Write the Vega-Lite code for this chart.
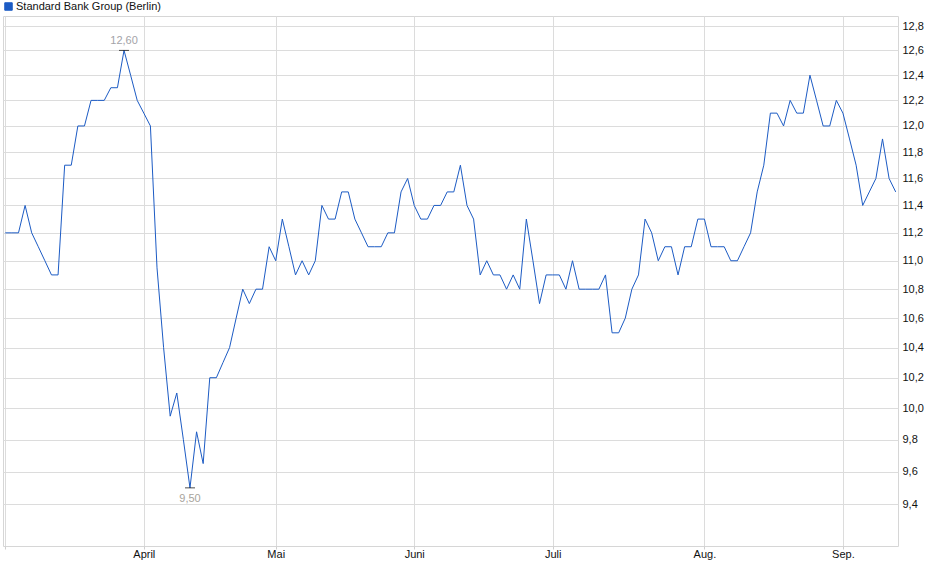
{
  "$schema": "https://vega.github.io/schema/vega-lite/v6.json",
  "description": "Standard Bank Group (Berlin), Kursverlauf Maerz bis September",
  "autosize": "none",
  "width": 895,
  "height": 530,
  "padding": {"left": 3, "top": 16, "right": 42, "bottom": 33},
  "background": "white",
  "config": {
    "font": "Liberation Sans",
    "view": {"stroke": "#d6d6d6", "strokeWidth": 1},
    "axis": {"labelFont": "Liberation Sans", "labelFontSize": 11, "labelColor": "#111111", "gridColor": "#dcdcdc", "gridWidth": 1, "domain": false, "title": null}
  },
  "datasets": {
    "prices": [
      {"date": "2025-03-03", "price": 11.2}, {"date": "2025-03-04", "price": 11.2}, {"date": "2025-03-05", "price": 11.2},
      {"date": "2025-03-06", "price": 11.4}, {"date": "2025-03-07", "price": 11.2}, {"date": "2025-03-10", "price": 11.1},
      {"date": "2025-03-11", "price": 11.0}, {"date": "2025-03-12", "price": 10.9}, {"date": "2025-03-13", "price": 10.9},
      {"date": "2025-03-14", "price": 11.7}, {"date": "2025-03-17", "price": 11.7}, {"date": "2025-03-18", "price": 12.0},
      {"date": "2025-03-19", "price": 12.0}, {"date": "2025-03-20", "price": 12.2}, {"date": "2025-03-21", "price": 12.2},
      {"date": "2025-03-24", "price": 12.2}, {"date": "2025-03-25", "price": 12.3}, {"date": "2025-03-26", "price": 12.3},
      {"date": "2025-03-27", "price": 12.6}, {"date": "2025-03-28", "price": 12.4}, {"date": "2025-03-31", "price": 12.2},
      {"date": "2025-04-01", "price": 12.1}, {"date": "2025-04-02", "price": 12.0}, {"date": "2025-04-03", "price": 10.95},
      {"date": "2025-04-04", "price": 10.4}, {"date": "2025-04-07", "price": 9.95}, {"date": "2025-04-08", "price": 10.1},
      {"date": "2025-04-09", "price": 9.8}, {"date": "2025-04-10", "price": 9.5}, {"date": "2025-04-11", "price": 9.85},
      {"date": "2025-04-14", "price": 9.65}, {"date": "2025-04-15", "price": 10.2}, {"date": "2025-04-16", "price": 10.2},
      {"date": "2025-04-17", "price": 10.3}, {"date": "2025-04-22", "price": 10.4}, {"date": "2025-04-23", "price": 10.6},
      {"date": "2025-04-24", "price": 10.8}, {"date": "2025-04-25", "price": 10.7}, {"date": "2025-04-28", "price": 10.8},
      {"date": "2025-04-29", "price": 10.8}, {"date": "2025-04-30", "price": 11.1}, {"date": "2025-05-02", "price": 11.0},
      {"date": "2025-05-05", "price": 11.3}, {"date": "2025-05-06", "price": 11.1}, {"date": "2025-05-07", "price": 10.9},
      {"date": "2025-05-08", "price": 11.0}, {"date": "2025-05-09", "price": 10.9}, {"date": "2025-05-12", "price": 11.0},
      {"date": "2025-05-13", "price": 11.4}, {"date": "2025-05-14", "price": 11.3}, {"date": "2025-05-15", "price": 11.3},
      {"date": "2025-05-16", "price": 11.5}, {"date": "2025-05-19", "price": 11.5}, {"date": "2025-05-20", "price": 11.3},
      {"date": "2025-05-21", "price": 11.2}, {"date": "2025-05-22", "price": 11.1}, {"date": "2025-05-23", "price": 11.1},
      {"date": "2025-05-26", "price": 11.1}, {"date": "2025-05-27", "price": 11.2}, {"date": "2025-05-28", "price": 11.2},
      {"date": "2025-05-29", "price": 11.5}, {"date": "2025-05-30", "price": 11.6}, {"date": "2025-06-02", "price": 11.4},
      {"date": "2025-06-03", "price": 11.3}, {"date": "2025-06-04", "price": 11.3}, {"date": "2025-06-05", "price": 11.4},
      {"date": "2025-06-06", "price": 11.4}, {"date": "2025-06-09", "price": 11.5}, {"date": "2025-06-10", "price": 11.5},
      {"date": "2025-06-11", "price": 11.7}, {"date": "2025-06-12", "price": 11.4}, {"date": "2025-06-13", "price": 11.3},
      {"date": "2025-06-16", "price": 10.9}, {"date": "2025-06-17", "price": 11.0}, {"date": "2025-06-18", "price": 10.9},
      {"date": "2025-06-19", "price": 10.9}, {"date": "2025-06-20", "price": 10.8}, {"date": "2025-06-23", "price": 10.9},
      {"date": "2025-06-24", "price": 10.8}, {"date": "2025-06-25", "price": 11.3}, {"date": "2025-06-26", "price": 11.0},
      {"date": "2025-06-27", "price": 10.7}, {"date": "2025-06-30", "price": 10.9}, {"date": "2025-07-01", "price": 10.9},
      {"date": "2025-07-02", "price": 10.9}, {"date": "2025-07-03", "price": 10.8}, {"date": "2025-07-04", "price": 11.0},
      {"date": "2025-07-07", "price": 10.8}, {"date": "2025-07-08", "price": 10.8}, {"date": "2025-07-09", "price": 10.8},
      {"date": "2025-07-10", "price": 10.8}, {"date": "2025-07-11", "price": 10.9}, {"date": "2025-07-14", "price": 10.5},
      {"date": "2025-07-15", "price": 10.5}, {"date": "2025-07-16", "price": 10.6}, {"date": "2025-07-17", "price": 10.8},
      {"date": "2025-07-18", "price": 10.9}, {"date": "2025-07-21", "price": 11.3}, {"date": "2025-07-22", "price": 11.2},
      {"date": "2025-07-23", "price": 11.0}, {"date": "2025-07-24", "price": 11.1}, {"date": "2025-07-25", "price": 11.1},
      {"date": "2025-07-28", "price": 10.9}, {"date": "2025-07-29", "price": 11.1}, {"date": "2025-07-30", "price": 11.1},
      {"date": "2025-07-31", "price": 11.3}, {"date": "2025-08-01", "price": 11.3}, {"date": "2025-08-04", "price": 11.1},
      {"date": "2025-08-05", "price": 11.1}, {"date": "2025-08-06", "price": 11.1}, {"date": "2025-08-07", "price": 11.0},
      {"date": "2025-08-08", "price": 11.0}, {"date": "2025-08-11", "price": 11.1}, {"date": "2025-08-12", "price": 11.2},
      {"date": "2025-08-13", "price": 11.5}, {"date": "2025-08-14", "price": 11.7}, {"date": "2025-08-15", "price": 12.1},
      {"date": "2025-08-18", "price": 12.1}, {"date": "2025-08-19", "price": 12.0}, {"date": "2025-08-20", "price": 12.2},
      {"date": "2025-08-21", "price": 12.1}, {"date": "2025-08-22", "price": 12.1}, {"date": "2025-08-25", "price": 12.4},
      {"date": "2025-08-26", "price": 12.2}, {"date": "2025-08-27", "price": 12.0}, {"date": "2025-08-28", "price": 12.0},
      {"date": "2025-08-29", "price": 12.2}, {"date": "2025-09-01", "price": 12.1}, {"date": "2025-09-02", "price": 11.9},
      {"date": "2025-09-03", "price": 11.7}, {"date": "2025-09-04", "price": 11.4}, {"date": "2025-09-05", "price": 11.5},
      {"date": "2025-09-08", "price": 11.6}, {"date": "2025-09-09", "price": 11.9}, {"date": "2025-09-10", "price": 11.6},
      {"date": "2025-09-11", "price": 11.5}
    ],
    "extremes": [
      {"date": "2025-03-27", "price": 12.6, "label": "12,60", "kind": "max"},
      {"date": "2025-04-10", "price": 9.5, "label": "9,50", "kind": "min"}
    ]
  },
  "encoding": {
    "x": {
      "field": "date",
      "type": "ordinal",
      "sort": "ascending",
      "scale": {"type": "point", "padding": 0.35},
      "axis": {
        "values": ["2025-03-03", "2025-04-01", "2025-05-02", "2025-06-02", "2025-07-01", "2025-08-01", "2025-09-01"],
        "labelExpr": "['', '', '', '', 'April', 'Mai', 'Juni', 'Juli', 'Aug.', 'Sep.'][toNumber(slice(datum.value, 5, 7))]",
        "labelAngle": 0,
        "labelPadding": -1,
        "grid": true,
        "ticks": true,
        "tickSize": 3,
        "tickColor": "#cfcfcf"
      }
    },
    "y": {
      "field": "price",
      "type": "quantitative",
      "scale": {"type": "log", "domain": [9.15, 12.883], "nice": false, "zero": false},
      "axis": {
        "orient": "right",
        "values": [9.4, 9.6, 9.8, 10.0, 10.2, 10.4, 10.6, 10.8, 11.0, 11.2, 11.4, 11.6, 11.8, 12.0, 12.2, 12.4, 12.6, 12.8],
        "labelExpr": "replace(format(datum.value, '.1f'), '.', ',')",
        "ticks": false,
        "labelPadding": 4,
        "grid": true
      }
    }
  },
  "layer": [
    {
      "data": {"name": "prices"},
      "mark": {"type": "line", "strokeWidth": 1, "interpolate": "linear"},
      "encoding": {
        "color": {
          "datum": "Standard Bank Group (Berlin)",
          "scale": {"range": ["#1c5bc4"]},
          "legend": {
            "title": null,
            "orient": "none",
            "legendX": 0,
            "legendY": -15,
            "padding": 0,
            "symbolType": "square",
            "symbolSize": 56,
            "symbolFillColor": "#1c5bc4",
            "symbolStrokeColor": "#13377a",
            "symbolStrokeWidth": 1,
            "labelFont": "Liberation Sans",
            "labelFontSize": 11,
            "labelColor": "#111111",
            "labelOffset": 2
          }
        }
      }
    },
    {
      "data": {"name": "extremes"},
      "mark": {"type": "tick", "orient": "horizontal", "size": 10, "thickness": 1, "color": "#000000"}
    },
    {
      "data": {"name": "extremes"},
      "transform": [{"filter": "datum.kind == 'max'"}],
      "mark": {"type": "text", "baseline": "bottom", "dy": -4, "fontSize": 11, "color": "#a3a3a8"},
      "encoding": {"text": {"field": "label"}}
    },
    {
      "data": {"name": "extremes"},
      "transform": [{"filter": "datum.kind == 'min'"}],
      "mark": {"type": "text", "baseline": "top", "dy": 5, "fontSize": 11, "color": "#a8a49c"},
      "encoding": {"text": {"field": "label"}}
    }
  ]
}
